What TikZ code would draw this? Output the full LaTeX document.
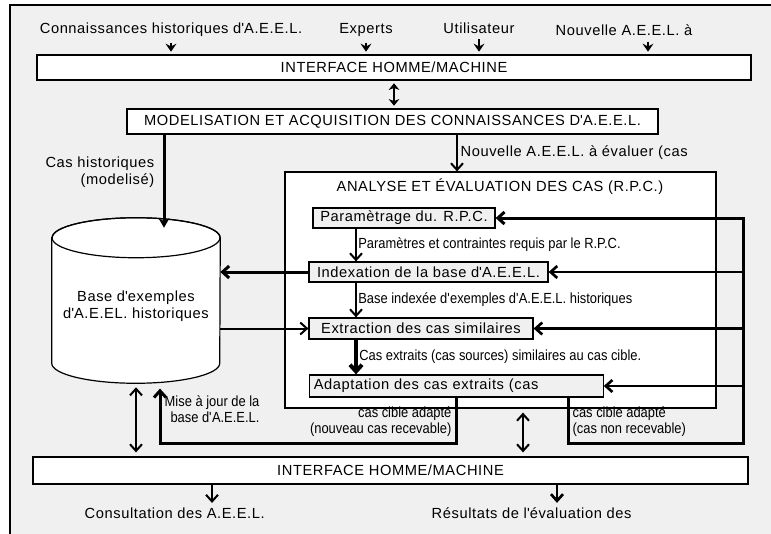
\documentclass[tikz,border=0pt]{standalone}
\usepackage{fontspec}
\setmainfont{Liberation Sans}[LetterSpace=4]
\newfontfamily\narrowfont[FakeStretch=0.88]{Liberation Sans}
\usetikzlibrary{arrows.meta, positioning}
\definecolor{panel}{HTML}{F0F0F0}
\newcommand\ap{\textquotesingle}

\begin{document}
\begin{tikzpicture}[
    x=0.75pt, y=-0.75pt,
    font=\fontsize{11}{13}\selectfont,
    box/.style={rectangle, draw=black, line width=0.9pt, fill=#1, inner sep=0pt},
    box/.default=white,
    narrow/.style={font=\narrowfont\fontsize{11}{12}\selectfont, inner sep=1pt},
    arrow/.style={-{Straight Barb[length=5pt,width=9pt]}, line width=#1},
    arrow/.default=1.5pt,
    twoway/.style={{Straight Barb[length=5pt,width=9pt]}-{Straight Barb[length=5pt,width=9pt]}, line width=1.5pt, shorten <=3pt, shorten >=3pt},
    smalltip/.style={-{Stealth[length=6pt,width=8pt,inset=2pt]}, line width=2pt, shorten <=1pt, shorten >=2pt},
    rim/.style={x radius=63pt, y radius=15pt}
]
\useasboundingbox (0,0) rectangle (771,533);
% frame
\fill[panel] (10,5) rectangle (780,540);
\draw[line width=1.5pt] (10,540) -- (10,5) -- (780,5);

% columns used by the connectors
\coordinate (nouvcol) at (648,0);
\coordinate (histcol) at (164,0);
\coordinate (newcol) at (457,0);
\coordinate (col) at (356,0);
\coordinate (nonreccol) at (568,0);
\coordinate (rightcol) at (743,0);
\coordinate (majcol) at (160,0);
\coordinate (midcol) at (523,0);
\coordinate (consultcol) at (212,0);
\coordinate (resultcol) at (557,0);
\coordinate (loopbot) at (0,443);

% inputs
\node (conn) at (171,30) {Connaissances historiques d\ap A.E.E.L.};
\node (experts) at (366,30) {Experts};
\node (user) at (479,28) {Utilisateur};
\node (nouv) at (624,30) {Nouvelle A.E.E.L. à};

% main boxes
\node[box, minimum width=535.5pt, minimum height=18.75pt] (ihmtop) at (394,67.5) {INTERFACE HOMME/MACHINE};
\node[box, minimum width=398.25pt, minimum height=18.75pt] (model) at (392.5,121.5) {MODELISATION ET ACQUISITION DES CONNAISSANCES D\ap A.E.E.L.};
\node[box, minimum width=323.25pt, minimum height=177pt] (analyse) at (500.5,290) {};
\node (analysetitle) at (500,187) {ANALYSE ET ÉVALUATION DES CAS (R.P.C.)};
\node[box=panel, minimum width=136.5pt, minimum height=15pt] (param) at (404,218) {Paramètrage du. R.P.C.};
\node[box=panel, minimum width=179.25pt, minimum height=15pt] (index) at (428.5,272) {Indexation de la base d\ap A.E.E.L.};
\node[box=panel, minimum width=168pt, minimum height=15.75pt] (extr) at (421,328.5) {Extraction des cas similaires};
\node[box=panel, minimum height=16.5pt, text width=214pt, inner xsep=3pt, align=left] (adapt) at (456.5,386) {Adaptation des cas extraits (cas};
\node[box, minimum width=536.25pt, minimum height=20.25pt] (ihmbot) at (390.5,470.5) {INTERFACE HOMME/MACHINE};

% base of examples (cylinder)
\node[inner sep=0pt, minimum width=126pt, minimum height=93.75pt] (base) at (136,300.5) {};
\draw[line width=0.9pt, fill=white] (base.north west) -- (base.south west)
    arc[start angle=180, end angle=360, rim] -- (base.north east)
    arc[start angle=0, end angle=180, rim] -- cycle;
\draw[line width=0.9pt] (base.north) ellipse[rim];
\coordinate (basefoot) at ([yshift=-15pt]base.south);
\node[align=center] (baselbl) at (136,306.5) {Base d\ap exemples\\d\ap A.E.EL. historiques};

% outputs
\node[anchor=west] (consult) at (80,513) {Consultation des A.E.E.L.};
\node[anchor=west] (result) at (427,513) {Résultats de l\ap évaluation des};

% labels
\node[anchor=east, align=right] (histlbl) at (159,172) {Cas historiques\\(modelisé)};
\node[narrow, anchor=east, align=right] (majlbl) at (261,409) {Mise à jour de la\\base d\ap A.E.E.L.};
\node[narrow, anchor=east, align=right] (reclbl) at (453,422) {cas cible adapté\\(nouveau cas recevable)};
\node[narrow, anchor=west, align=left] (nonreclbl) at (571,422) {cas cible adapté\\(cas non recevable)};

% top arrows
\draw[smalltip] (conn.south) -- (conn.south |- ihmtop.north);
\draw[smalltip] (experts.south) -- (experts.south |- ihmtop.north);
\draw[smalltip] (user.south) -- (user.south |- ihmtop.north);
\draw[smalltip] (nouv.south -| nouvcol) -- (ihmtop.north -| nouvcol);
\draw[{Stealth[length=5pt,width=8pt,inset=1.5pt]}-{Stealth[length=5pt,width=8pt,inset=1.5pt]}, line width=2pt, shorten <=2pt, shorten >=2pt]
    (ihmtop.south) -- (ihmtop.south |- model.north);
\draw[-{Stealth[length=7pt,width=8pt,inset=2pt]}, line width=2.25pt, shorten >=7.5pt] (model.south -| histcol) -- (base.north -| histcol);
\draw[arrow] (model.south -| newcol) -- node[right, inner sep=2pt] {Nouvelle A.E.E.L. à évaluer (cas} (analyse.north -| newcol);

% inside the analysis
\draw[arrow] (param.south -| col) -- node[narrow, right] {Paramètres et contraintes requis par le R.P.C.} (index.north -| col);
\draw[arrow] (index.south -| col) -- node[narrow, right] {Base indexée d\ap exemples d\ap A.E.E.L. historiques} (extr.north -| col);
\draw[arrow=3pt] (extr.south -| col) -- node[narrow, right] {Cas extraits (cas sources) similaires au cas cible.} (adapt.north -| col);

% links with the base
\draw[arrow=2.25pt] (index.west) -- (index.west -| base.east);
\draw[arrow] (base.east |- extr.west) -- (extr.west);

% feedback loops
\draw[arrow=2.25pt, shorten >=4pt] (adapt.south) |- (loopbot -| majcol) -- (basefoot -| majcol);
\draw[arrow=2.25pt] (adapt.south -| nonreccol) |- (loopbot -| rightcol) |- (param.east);
\draw[arrow=2pt] (index.east -| rightcol) -- (index.east);
\draw[arrow=2pt] (extr.east -| rightcol) -- (extr.east);
\draw[arrow=2pt] (adapt.east -| rightcol) -- (adapt.east);

% two-way links
\draw[twoway] (basefoot) -- (basefoot |- ihmbot.north);
\draw[twoway] (analyse.south -| midcol) -- (ihmbot.north -| midcol);

% bottom arrows
\draw[arrow] (ihmbot.south -| consultcol) -- (consult.north -| consultcol);
\draw[arrow=2pt] (ihmbot.south -| resultcol) -- (result.north -| resultcol);
\end{tikzpicture}
\end{document}
